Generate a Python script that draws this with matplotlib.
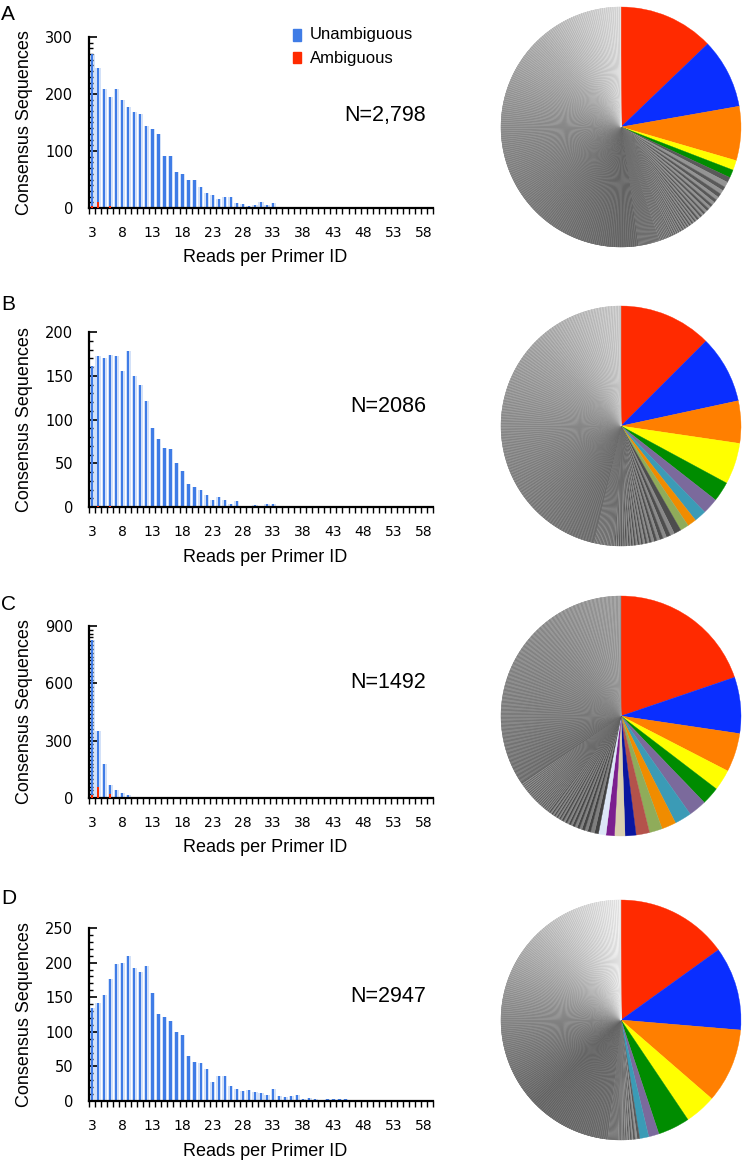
import numpy as np
import matplotlib
matplotlib.use("Agg")
import matplotlib.pyplot as plt
from matplotlib.patches import Rectangle
from matplotlib.ticker import MultipleLocator, FixedLocator

# ---------------- data ----------------
reads = list(range(3, 60))
xtick_labels = [3, 8, 13, 18, 23, 28, 33, 38, 43, 48, 53, 58]

A_unamb = [271, 245, 208, 195, 208, 189, 177, 169, 165, 144,
           139, 129, 91, 92, 63, 60, 50, 50, 37, 26,
           23, 16, 20, 19, 9, 7, 4, 5, 10, 6,
           8, 0, 0, 0, 0, 0, 0, 0, 0, 0,
           0, 0, 0, 0, 0, 0, 0, 0, 0, 0,
           0, 0, 0, 0, 0, 0, 0]
A_amb_reads = [3, 4, 6]
A_amb = [3, 10, 3]

B_unamb = [161, 173, 170, 174, 173, 155, 178, 150, 140, 121,
           90, 78, 67, 66, 50, 41, 26, 23, 20, 14,
           8, 11, 8, 3, 7, 1, 1, 2, 1, 3,
           3, 1, 0, 0, 0, 0, 0, 0, 0, 0,
           0, 0, 0, 0, 0, 0, 0, 0, 0, 0,
           0, 0, 0, 0, 0, 0, 0]
B_amb_reads = [4, 6]
B_amb = [1, 1]

C_unamb = [827, 352, 179, 66, 40, 24, 17, 5, 0, 0,
           0, 0, 0, 0, 0, 0, 0, 0, 0, 0,
           0, 0, 0, 0, 0, 0, 0, 0, 0, 0,
           0, 0, 0, 0, 0, 0, 0, 0, 0, 0,
           0, 0, 0, 0, 0, 0, 0, 0, 0, 0,
           0, 0, 0, 0, 0, 0, 0]
C_amb_reads = [3, 4, 6]
C_amb = [15, 55, 20]

D_unamb = [134, 142, 153, 176, 198, 199, 210, 192, 186, 195,
           156, 126, 121, 116, 99, 95, 65, 56, 55, 46,
           27, 36, 36, 22, 18, 15, 16, 13, 12, 8,
           17, 7, 6, 7, 8, 3, 5, 3, 1, 3,
           3, 3, 3, 2, 1, 1, 1, 1, 2, 1,
           2, 1, 0, 0, 0, 0, 0]
D_amb_reads = []
D_amb = []

N_labels = ["N=2,798", "N=2086", "N=1492", "N=2947"]
panel_letters = ["A", "B", "C", "D"]
y_max = [300, 200, 900, 250]
y_major = [100, 50, 300, 50]
y_minor = [10, 10, 20, 10]

# pie data: colored (major variant) slices, then grey minor-variant slices
A_pie_major = [359, 263, 204, 37, 30]
B_pie_major = [261, 190, 119, 116, 56, 45, 34, 25, 24]
C_pie_major = [295, 113, 78, 42, 36, 36, 34, 29, 26, 27, 22, 21, 17, 15]
D_pie_major = [444, 332, 296, 124, 127, 41, 36]

A_grey_sizes = [20, 15, 12, 10, 8, 6, 5, 4, 3, 2, 1]
A_grey_counts = [2, 3, 3, 4, 5, 6, 8, 10, 15, 40, 1463]
B_grey_sizes = [20, 12, 10, 8, 6, 5, 4, 3, 2, 1]
B_grey_counts = [1, 2, 2, 3, 4, 5, 6, 10, 30, 965]
C_grey_sizes = [8, 6, 5, 4, 3, 2, 1]
C_grey_counts = [2, 3, 4, 6, 10, 40, 513]
D_grey_sizes = [10, 8, 6, 5, 4, 3, 2, 1]
D_grey_counts = [1, 2, 2, 3, 4, 6, 20, 1420]

# ---------------- style ----------------
major_palette = ['#ff2a00', '#0a2eff', '#ff7f00', '#ffff00', '#008c00', '#7b6a9c',
                 '#3b9bb6', '#f08c00', '#8fac5a', '#b4524b', '#0a16a0', '#d9cfae',
                 '#7b1f8f', '#dce6f7']
grey_stops_t = [[0, 0.27, 0.63, 0.82, 1.0],
                [0, 0.13, 0.57, 0.78, 1.0],
                [0, 0.12, 0.47, 0.74, 1.0],
                [0, 0.29, 0.52, 0.76, 1.0]]
grey_stops_v = [[0.45, 0.42, 0.56, 0.69, 0.86],
                [0.40, 0.42, 0.56, 0.65, 0.80],
                [0.36, 0.40, 0.50, 0.55, 0.62],
                [0.45, 0.42, 0.54, 0.72, 0.92]]

W, H = 742, 1163
fig = plt.figure(figsize=(W / 100, H / 100), dpi=100)

def rect(l, t, r, b):
    return [l / W, 1 - b / H, (r - l) / W, (b - t) / H]

ax_left, ax_right = 89, 433
ax_tops = [37, 332, 626, 928]
ax_bots = [208, 507, 798, 1101]
letter_y = [15, 305, 605, 898]
N_y = [116, 406, 683, 997]
pie_cy = [127, 426, 716, 1020]
pie_cx = 621
pie_r = 120

label_font = "Liberation Sans"
tick_font = "DejaVu Sans"
blue = '#3f7ce6'
pale = '#d3e1f8'
red = '#ff2a00'

unamb_all = [A_unamb, B_unamb, C_unamb, D_unamb]
amb_reads_all = [A_amb_reads, B_amb_reads, C_amb_reads, D_amb_reads]
amb_all = [A_amb, B_amb, C_amb, D_amb]
pie_major_all = [A_pie_major, B_pie_major, C_pie_major, D_pie_major]
grey_sizes_all = [A_grey_sizes, B_grey_sizes, C_grey_sizes, D_grey_sizes]
grey_counts_all = [A_grey_counts, B_grey_counts, C_grey_counts, D_grey_counts]

for k in range(4):
    t, b = ax_tops[k], ax_bots[k]
    ax = fig.add_axes(rect(ax_left, t, ax_right, b))
    ax.bar(reads, unamb_all[k], width=0.85, color=pale, linewidth=0, zorder=1)
    ax.bar(reads, unamb_all[k], width=0.38, color=blue, linewidth=0, zorder=2)
    if amb_reads_all[k]:
        ax.bar(amb_reads_all[k], amb_all[k], width=0.45, color=red, linewidth=0, zorder=3)
    ax.set_xlim(2.5, 59.5)
    ax.set_ylim(0, y_max[k])
    for s in ['top', 'right']:
        ax.spines[s].set_visible(False)
    for s in ['left', 'bottom']:
        ax.spines[s].set_linewidth(1.6)
        ax.spines[s].set_color('black')
    ax.xaxis.set_major_locator(FixedLocator(xtick_labels))
    ax.xaxis.set_minor_locator(FixedLocator(np.arange(2.5, 60.0, 1.0)))
    ax.tick_params(axis='x', which='major', length=0, pad=13, labelsize=10)
    ax.tick_params(axis='x', which='minor', direction='out', length=4, width=1.0)
    ax.yaxis.set_major_locator(MultipleLocator(y_major[k]))
    ax.yaxis.set_minor_locator(MultipleLocator(y_minor[k]))
    ax.tick_params(axis='y', which='major', direction='in', length=6, width=1.2,
                   pad=11.5, labelsize=10.5)
    ax.tick_params(axis='y', which='minor', direction='in', length=3, width=1.0)
    for lab in ax.get_xticklabels() + ax.get_yticklabels():
        lab.set_family(tick_font)
    ax.set_ylabel("Consensus Sequences", family=label_font, fontsize=13, va='center')
    ax.yaxis.set_label_coords((25 - ax_left) / (ax_right - ax_left), 0.5)
    ax.set_xlabel("Reads per Primer ID", family=label_font, fontsize=13, va='center')
    ax.xaxis.set_label_coords((265 - ax_left) / (ax_right - ax_left), -50 / (b - t))
    fig.text(1 / W, 1 - letter_y[k] / H, panel_letters[k], family=label_font,
             fontsize=15, ha='left', va='center')
    fig.text(426 / W, 1 - N_y[k] / H, N_labels[k], family=label_font,
             fontsize=15.5, ha='right', va='center')

    # pie
    major = pie_major_all[k]
    grey = list(np.repeat(grey_sizes_all[k], grey_counts_all[k]))
    values = list(major) + grey
    colors = major_palette[:len(major)]
    gtot = float(sum(grey))
    cum = np.cumsum([0] + grey[:-1]) / gtot
    for i, (g, c) in enumerate(zip(grey, cum)):
        base = np.interp(c, grey_stops_t[k], grey_stops_v[k])
        if g > 1:
            mod = 0.13 if i % 2 else -0.10
        else:
            mod = 0.035 if (i // 4) % 2 else -0.035
        v = float(np.clip(base + mod, 0, 1))
        colors.append((v, v, v))
    pax = fig.add_axes(rect(pie_cx - pie_r, pie_cy[k] - pie_r, pie_cx + pie_r, pie_cy[k] + pie_r))
    wedges, _ = pax.pie(values, colors=colors, startangle=90, counterclock=False,
                        radius=1.0)
    for w in wedges:
        w.set_edgecolor(w.get_facecolor())
        w.set_linewidth(0.25)
    pax.set_xlim(-1.0, 1.0)
    pax.set_ylim(-1.0, 1.0)
    pax.set_aspect('equal')
    pax.axis('off')

# legend in panel A
leg_items = [("Unambiguous", blue, 29, 41, 35), ("Ambiguous", red, 52, 63, 58)]
for text, col, y0, y1, yc in leg_items:
    fig.patches.append(Rectangle((293 / W, 1 - y1 / H), 8 / W, (y1 - y0) / H,
                                 transform=fig.transFigure, color=col, zorder=5))
    fig.text(310 / W, 1 - yc / H, text, family=label_font, fontsize=12,
             ha='left', va='center')

fig.savefig("out.png", dpi=100)
